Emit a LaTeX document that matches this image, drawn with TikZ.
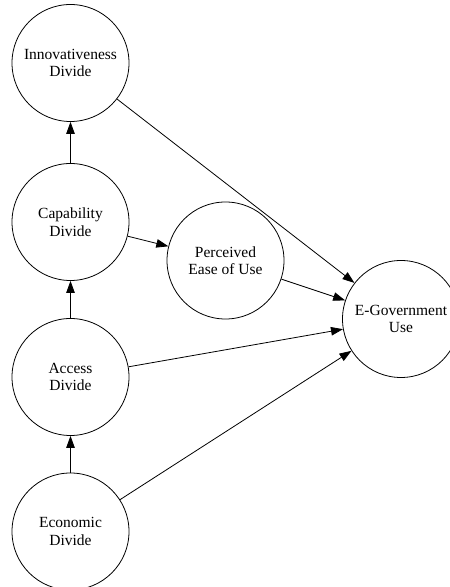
\documentclass[tikz,border=0pt]{standalone}
\usepackage{fontspec}
\setmainfont{Liberation Serif}
\usetikzlibrary{arrows.meta}
\begin{document}
\begin{tikzpicture}[x=1pt,y=1pt,
  con/.style={circle,draw,line width=0.8pt,minimum size=117pt,inner sep=0pt,align=center,font=\fontsize{15.5}{17.5}\selectfont},
  arr/.style={line width=0.8pt,-{Triangle[length=12pt,width=8.5pt]}}]
\useasboundingbox (0,0) rectangle (450,587);
\begin{scope}
\clip (0,0) rectangle (450,587);
\node[con] (inn) at (70.5,524) {Innovativeness\\Divide};
\node[con] (cap) at (70.5,365) {Capability\\Divide};
\node[con] (acc) at (70.5,210) {Access\\Divide};
\node[con] (eco) at (70.5,55.5) {Economic\\Divide};
\node[con] (peu) at (225.5,326.5) {Perceived\\Ease of Use};
\node[con] (ego) at (401,268) {E-Government\\Use};
\draw[arr] (eco) -- (acc);
\draw[arr] (acc) -- (cap);
\draw[arr] (cap) -- (inn);
\draw[arr] (cap) -- (peu);
\draw[arr] (inn) -- (ego);
\draw[arr] (peu) -- (ego);
\draw[arr] (acc) -- (ego);
\draw[arr] (eco) -- (ego);
\end{scope}
\end{tikzpicture}
\end{document}
